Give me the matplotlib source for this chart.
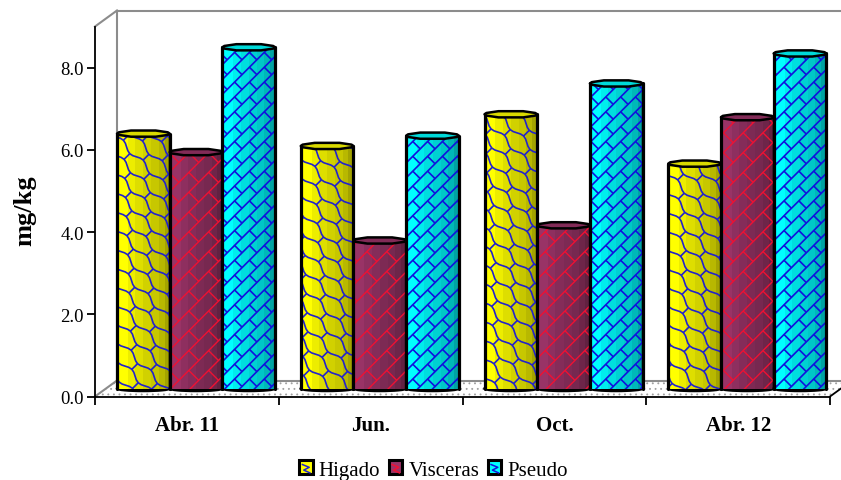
import numpy as np
import matplotlib
matplotlib.use("Agg")
import matplotlib.pyplot as plt
from matplotlib.collections import LineCollection
from matplotlib.legend_handler import HandlerPatch
from matplotlib.lines import Line2D
from matplotlib.patches import Ellipse, Patch, Polygon, Rectangle
from matplotlib.transforms import IdentityTransform

categories = ["Abr. 11", "Jun.", "Oct.", "Abr. 12"]
series_names = ["Higado", "Visceras", "Pseudo"]
higado = [6.2, 5.9, 6.67, 5.47]
visceras = [5.75, 3.6, 3.97, 6.6]
pseudo = [8.3, 6.15, 7.42, 8.15]
y_ticks = [0, 2, 4, 6, 8]

face_colors = [(1.0, 1.0, 0.0), (0.60, 0.20, 0.40), (0.0, 1.0, 1.0)]
pattern_colors = ["#2222cc", "#ee1133", "#1111dd"]
pattern_widths = [1.2, 1.0, 1.2]
facet_shades = [0.95, 1.0, 1.0, 0.93, 0.87, 0.82, 0.78, 0.72, 0.64, 0.5]

WIDTH, HEIGHT = 841, 481
AX_L, AX_R, AX_B, AX_T = 95, 830, 397.5, 27.5
DEPTH_X, DEPTH_Y = 22, 16
Y_MAX = 9.0

plt.rcParams["font.family"] = ["Liberation Serif", "DejaVu Serif"]
plt.rcParams["hatch.linewidth"] = 0.6
fig = plt.figure(figsize=(WIDTH / 100, HEIGHT / 100), dpi=100, facecolor="white")
ax = fig.add_axes([AX_L / WIDTH, 1 - AX_B / HEIGHT, (AX_R - AX_L) / WIDTH, (AX_B - AX_T) / HEIGHT])
ax.set_xlim(0, len(categories))
ax.set_ylim(0, Y_MAX)
ax.patch.set_visible(False)

per_cat = (AX_R - AX_L) / len(categories)
per_val = (AX_B - AX_T) / Y_MAX
dx, dy = DEPTH_X / per_cat, DEPTH_Y / per_val
lift = 8 / per_val
bar_w = 52.7 / per_cat
cap_h = 7 / per_val
foot_h = 5 / per_val


def brick_segments(direction, spacing, length, wave=0.0):
    """Diagonal brick courses in pixels; wave > 0 makes the courses ripple."""
    u = np.array(direction, dtype=float) / np.sqrt(2)
    v = np.array([-u[1], u[0]])
    span = WIDTH + HEIGHT
    segs = []
    along = np.arange(0, 2 * span, length / 8)
    for row in range(-int(span / spacing), int(span / spacing)):
        phase = 0.5 * (row % 2)
        ripple = wave * np.sin(2 * np.pi * (along / length - phase))
        line = row * spacing * v + np.outer(along - span, u) + np.outer(ripple, v)
        segs.append(line)
        for k in range(int(2 * span / length)):
            a = row * spacing * v + ((k + phase + 0.25) * length - span) * u + wave * v
            segs.append(np.array([a, a + (spacing - 2 * wave) * v]))
    return segs


patterns = [brick_segments((1, -1), 13.0, 28.0, wave=2.5),
            brick_segments((1, 1), 14.0, 28.0),
            brick_segments((1, 1), 10.5, 21.0)]


def add_pattern(idx, clip_patch, zorder, alpha=1.0):
    lc = LineCollection(patterns[idx], colors=pattern_colors[idx],
                        linewidths=pattern_widths[idx], alpha=alpha,
                        transform=IdentityTransform(), zorder=zorder)
    ax.add_collection(lc, autolim=False)
    lc.set_clip_path(clip_patch)


def shade(color, factor):
    return tuple(c * factor for c in color)


def cap_outline(centre, top):
    """Flattened, faceted outline of a cylinder's top face."""
    angles = np.radians([0, 22, 62, 118, 158, 180, 202, 242, 298, 338])
    return np.column_stack([centre + bar_w / 2 * np.cos(angles),
                            top + cap_h / 2 * np.sin(angles)])


# Back wall, floor and their gray edges
floor = Polygon([(0, 0), (dx, dy), (len(categories) + dx, dy), (len(categories), 0)],
                closed=True, facecolor="white", edgecolor="#a0a0a0", hatch="...",
                linewidth=0, zorder=1)
floor.set_clip_on(False)
ax.add_patch(floor)
gray = dict(color="#8c8c8c", lw=1.5, clip_on=False, zorder=1.5)
ax.plot([dx, dx], [dy, Y_MAX + dy], **gray)
ax.plot([0, dx], [Y_MAX, Y_MAX + dy], **gray)
ax.plot([dx, len(categories) + dx], [Y_MAX + dy] * 2, **gray)
ax.plot([dx, len(categories) + dx], [dy, dy], **gray)
ax.plot([0, dx], [0, dy], **gray)
ax.plot([len(categories), len(categories) + dx], [0, dy], color="black", lw=1.3, clip_on=False, zorder=1.5)

# Faceted cylinders, drawn group by group
all_values = [higado, visceras, pseudo]
n_facets = len(facet_shades)
for c in range(len(categories)):
    for s, values in enumerate(all_values):
        val = values[c]
        left = c + dx + s * bar_w
        centre = left + bar_w / 2
        z = 3 + c + s * 0.2
        base = lift
        top = lift + val
        ax.add_patch(Ellipse((centre, base), bar_w, foot_h, facecolor="black",
                             edgecolor="black", lw=1.8, clip_on=False, zorder=z))
        edges = left + bar_w * (1 - np.cos(np.linspace(0, np.pi, n_facets + 1))) / 2
        ax.bar(edges[:-1], [val] * n_facets, width=np.diff(edges), bottom=base, align="edge",
               color=[shade(face_colors[s], f) for f in facet_shades],
               linewidth=0, clip_on=False, zorder=z + 0.01)
        add_pattern(s, Rectangle((left, base), bar_w, val, transform=ax.transData), z + 0.02)
        ax.plot([left, left], [base, top], color="black", lw=2.3, clip_on=False,
                solid_capstyle="round", zorder=z + 0.03)
        ax.plot([left + bar_w] * 2, [base, top], color="black", lw=2.3, clip_on=False,
                solid_capstyle="round", zorder=z + 0.03)
        outline = cap_outline(centre, top)
        ax.add_patch(Polygon(outline, closed=True, facecolor=shade(face_colors[s], 0.85),
                             edgecolor="black", lw=1.8, joinstyle="round",
                             clip_on=False, zorder=z + 0.04))

# Axes, ticks and labels
for side in ("top", "right"):
    ax.spines[side].set_visible(False)
for side in ("left", "bottom"):
    ax.spines[side].set_linewidth(1.3)
    ax.spines[side].set_zorder(2)
ax.set_yticks(y_ticks, [f"{v:.1f}" for v in y_ticks], fontsize=13.5)
ax.set_xticks(range(len(categories) + 1))
ax.set_xticks(np.arange(len(categories)) + 0.5, categories, minor=True,
              fontsize=15, fontweight="bold")
ax.set_xticklabels([])
ax.tick_params(axis="y", length=6, width=1.3, pad=2)
ax.tick_params(axis="x", which="major", length=6, width=1.3)
ax.tick_params(axis="x", which="minor", length=0, pad=13)
fig.text(24.5 / WIDTH, 1 - 211 / HEIGHT, "mg/kg", rotation=90, ha="center", va="center",
         fontsize=19, fontweight="bold")


class SwatchHandler(HandlerPatch):
    """Legend key: a small framed square with a fragment of the series pattern."""

    def __init__(self, color):
        super().__init__()
        self.color = color

    def create_artists(self, legend, orig_handle, xdescent, ydescent, width, height, fontsize, trans):
        x0, y0 = -xdescent, -ydescent
        box = Rectangle((x0, y0), width, height, facecolor=orig_handle.get_facecolor(),
                        edgecolor="black", lw=2.2, transform=trans)
        mark = Line2D([x0 + width * 0.25, x0 + width * 0.75, x0 + width * 0.35, x0 + width * 0.8],
                      [y0 + height * 0.7, y0 + height * 0.5, y0 + height * 0.3, y0 + height * 0.1],
                      color=self.color, lw=1.1, transform=trans)
        return [box, mark]


handles = [Patch(facecolor=face_colors[i], label=series_names[i]) for i in range(3)]
ax.legend(handles=handles, ncols=3, frameon=False, fontsize=15,
          loc="center", bbox_to_anchor=(433.5 / WIDTH, 1 - 471 / HEIGHT),
          bbox_transform=fig.transFigure,
          handlelength=0.65, handleheight=0.65, handletextpad=0.3, columnspacing=0.4,
          handler_map={handles[i]: SwatchHandler(pattern_colors[i]) for i in range(3)})

fig.savefig("out.png", dpi=100)
